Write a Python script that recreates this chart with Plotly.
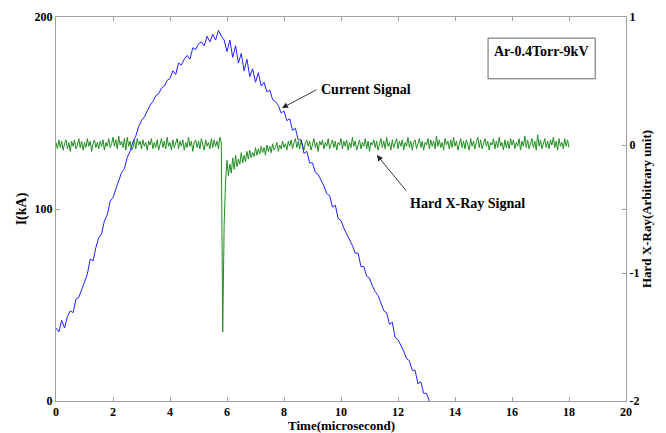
import numpy as np
import plotly.graph_objects as go

# ---- Current signal (kA), sampled every 0.1 microsecond from t = 0 ----
current_dt = 0.1
current_ka = [
    38, 36, 42, 38, 44, 47, 46, 53, 54, 58,
    63, 66, 74, 73, 80, 85, 87, 94, 97, 104,
    106, 110, 114, 119, 121, 127, 130, 135, 138, 143,
    146, 148, 151, 154, 156, 159, 160, 163, 164, 167,
    168, 172, 170, 176, 175, 178, 180, 178, 184, 183,
    186, 187, 185, 190, 187, 191, 188, 193, 190, 188,
    182, 188, 179, 185, 176, 181, 172, 178, 169, 173,
    166, 171, 164, 166, 161, 162, 157, 156, 154, 150,
    151, 146, 147, 141, 142, 136, 136, 129, 130, 124,
    124, 119, 118, 115, 112, 108, 107, 101, 102, 95,
    94, 90, 87, 84, 81, 77, 77, 70, 70, 65,
    64, 60, 57, 55, 51, 47, 46, 40, 41, 33,
    32, 29, 26, 22, 21, 16, 16, 9, 10, 4,
    4, 0,
]

# ---- Hard X-ray signal (arbitrary unit), sampled every 0.05 microsecond ----
xray_dt = 0.05
xray_signal = [
    0.02, -0.03, 0.04, -0.02, 0.03, -0.04, 0.01, 0.04, -0.03, 0.02,
    -0.05, 0.03, -0.01, 0.04, -0.03, 0.00, 0.05, -0.02, 0.03, -0.04,
    0.02, -0.02, 0.05, -0.01, 0.03, -0.05, 0.01, 0.04, -0.02, 0.02,
    -0.03, 0.03, -0.01, 0.04, -0.04, 0.02, -0.01, 0.05, -0.02, 0.01,
    0.06, -0.01, 0.04, -0.03, 0.07, 0.00, 0.03, -0.02, 0.05, -0.04,
    0.06, -0.01, 0.03, -0.04, -0.02, 0.04, -0.03, 0.05, 0.00, 0.03,
    -0.03, 0.04, -0.01, 0.02, -0.04, 0.03, 0.00, 0.05, -0.03, 0.02,
    -0.02, 0.04, -0.04, 0.01, 0.05, -0.02, 0.03, -0.03, 0.06, -0.01,
    0.02, -0.04, 0.04, -0.02, 0.01, 0.05, -0.03, 0.03, -0.01, 0.04,
    -0.04, 0.02, -0.02, 0.06, -0.01, 0.03, -0.05, 0.02, 0.04, -0.02,
    0.03, -0.03, 0.05, 0.00, -0.04, 0.04, -0.01, 0.02, -0.03, 0.05,
    -0.02, 0.04, -0.01, 0.03, -0.03, 0.06, 0.02,
    -1.46,
    -0.62, -0.28, -0.12, -0.24, -0.15, -0.22, -0.10, -0.19, -0.08, -0.17,
    -0.11, -0.15, -0.06, -0.14, -0.08, -0.13, -0.05, -0.11, -0.04, -0.10,
    -0.06, -0.09, -0.02, -0.08, -0.03, -0.07, -0.01, -0.06, -0.02, -0.08,
    0.00, -0.05, -0.01, -0.06, 0.01, -0.04, -0.02, 0.02, -0.05, 0.00,
    -0.03, 0.03, -0.02, 0.01, -0.04, 0.03, -0.01, 0.04, -0.03, 0.02,
    0.05, -0.02, 0.03, -0.03, 0.04, 0.00, -0.04, 0.02,
    0.04, -0.01, 0.03, -0.04, 0.01, 0.05, -0.02, 0.02, -0.05, 0.03,
    0.00, 0.04, -0.03, 0.02, -0.01, 0.05, -0.03, 0.01, 0.04, -0.02,
    0.03, -0.04, 0.02, 0.00, 0.05, -0.03, 0.03, -0.01, 0.04, -0.04,
    0.02, -0.02, 0.06, -0.01, 0.03, -0.04, 0.01, 0.04, -0.03, 0.02,
    -0.01, 0.05, -0.03, 0.03, -0.05, 0.02, 0.00, 0.04, -0.02, 0.03,
    -0.04, 0.01, 0.05, -0.02, 0.03, -0.03, 0.06, -0.01, 0.02, -0.04,
    0.04, -0.02, 0.01, 0.05, -0.03, 0.03, -0.01, 0.04, -0.04, 0.02,
    -0.01, 0.06, -0.02, 0.03, -0.04, 0.02, 0.04, -0.03, 0.01, 0.05,
    -0.02, 0.03, -0.04, 0.02, 0.00, 0.05, -0.03, 0.04, -0.01, 0.03,
    -0.03, 0.07, -0.01, 0.04, -0.02, 0.02, -0.04, 0.05, 0.00, 0.03,
    -0.03, 0.04, -0.02, 0.06, -0.01, 0.03, -0.04, 0.02, 0.05, -0.02,
    0.03, -0.03, 0.04, 0.00, -0.04, 0.05, -0.01, 0.03, -0.03, 0.02,
    0.06, -0.02, 0.04, -0.03, 0.01, 0.05, -0.01, 0.03, -0.04, 0.02,
    0.00, 0.05, -0.03, 0.03, -0.02, 0.06, -0.01, 0.02, -0.04, 0.04,
    -0.02, 0.03, -0.03, 0.05, 0.00, 0.04, -0.03, 0.02, -0.01, 0.05,
    -0.04, 0.03, -0.01, 0.07, -0.02, 0.04, -0.03, 0.02, 0.05, -0.02,
    0.03, -0.04, 0.08, -0.01, 0.04, -0.03, 0.02, 0.05, -0.02, 0.03,
    -0.03, 0.04, 0.00, 0.06, -0.02, 0.03, -0.04, 0.05, -0.01, 0.02,
    -0.03, 0.05, -0.01, 0.04, -0.02,
]

x_ticks = [0, 2, 4, 6, 8, 10, 12, 14, 16, 18, 20]
current_ticks = [0, 100, 200]
xray_ticks = [-2, -1, 0, 1]

current_t = np.arange(len(current_ka)) * current_dt
xray_t = np.arange(len(xray_signal)) * xray_dt


def bold(vals):
    return [f"<b>{v}</b>" for v in vals]


FONT = "Liberation Serif"
AXC = "#a0a0a0"

fig = go.Figure()
fig.add_trace(go.Scatter(x=xray_t, y=xray_signal, mode="lines",
                         line=dict(color="#1f8f1f", width=1), yaxis="y",
                         showlegend=False))
fig.add_trace(go.Scatter(x=current_t, y=current_ka, mode="lines",
                         line=dict(color="#2020ff", width=1), yaxis="y2",
                         showlegend=False))

tickfont = dict(family=FONT, size=12, color="black")
fig.update_layout(
    width=666, height=433,
    margin=dict(l=56, r=40, t=17, b=32),
    paper_bgcolor="white", plot_bgcolor="white",
    font=dict(family=FONT, color="black"),
    xaxis=dict(range=[0, 20], tickvals=x_ticks, ticktext=bold(x_ticks),
               ticks="inside", ticklen=4,
               tickcolor=AXC, showline=True, linecolor=AXC, linewidth=1,
               mirror="ticks", showgrid=False, zeroline=False,
               tickfont=tickfont, automargin=False),
    yaxis=dict(range=[-2, 1], tickvals=xray_ticks, ticktext=bold(xray_ticks),
               side="right",
               ticks="inside", ticklen=4, tickcolor=AXC, showline=True,
               linecolor=AXC, linewidth=1, showgrid=False, zeroline=False,
               tickfont=tickfont, automargin=False,
               title=dict(text="<b>Hard X-Ray(Arbitrary unit)</b>",
                          font=dict(family=FONT, size=13, color="black"),
                          standoff=0)),
    yaxis2=dict(range=[0, 200], tickvals=current_ticks,
                ticktext=bold(current_ticks), side="left",
                overlaying="y", ticks="inside", ticklen=4, tickcolor=AXC,
                showline=True, linecolor=AXC, linewidth=1, mirror="ticks",
                showgrid=False, zeroline=False, tickfont=tickfont,
                automargin=False,
                title=dict(text="<b>I(kA)</b>",
                           font=dict(family=FONT, size=14, color="black"),
                           standoff=4)),
)

# x-axis title placed just below the tick labels
fig.add_annotation(xref="paper", yref="paper", x=0.5, y=-0.0625,
                   xanchor="center", yanchor="middle",
                   text="<b>Time(microsecond)</b>", showarrow=False,
                   font=dict(family=FONT, size=13, color="black"))

# label box
fig.add_shape(type="rect", xref="paper", yref="paper",
              x0=0.758, x1=0.946, y0=0.839, y1=0.945,
              line=dict(color="#666666", width=1), fillcolor="white")
fig.add_annotation(xref="paper", yref="paper", x=0.852, y=0.909,
                   xanchor="center", yanchor="middle",
                   text="<b>Ar-0.4Torr-9kV</b>", showarrow=False,
                   font=dict(family=FONT, size=14, color="black"))

# Current Signal label and arrow
fig.add_annotation(x=9.22, y=162.5, xref="x", yref="y2", xanchor="left",
                   yanchor="middle",
                   text="<b>Current Signal</b>", showarrow=False,
                   font=dict(family=FONT, size=14, color="black"))
fig.add_annotation(x=7.93, y=152.6, xref="x", yref="y2",
                   ax=9.19, ay=162.5, axref="x", ayref="y2", text="",
                   showarrow=True, arrowhead=2, arrowsize=1.3,
                   arrowwidth=0.9, arrowcolor="#222222")

# Hard X-Ray label and arrow
fig.add_annotation(x=12.35, y=103.0, xref="x", yref="y2", xanchor="left",
                   yanchor="middle",
                   text="<b>Hard X-Ray Signal</b>", showarrow=False,
                   font=dict(family=FONT, size=14, color="black"))
fig.add_annotation(x=11.26, y=128.1, xref="x", yref="y2",
                   ax=12.32, ay=108.9, axref="x", ayref="y2", text="",
                   showarrow=True, arrowhead=2, arrowsize=1.3,
                   arrowwidth=0.9, arrowcolor="#222222")

fig.write_html("out.html")
